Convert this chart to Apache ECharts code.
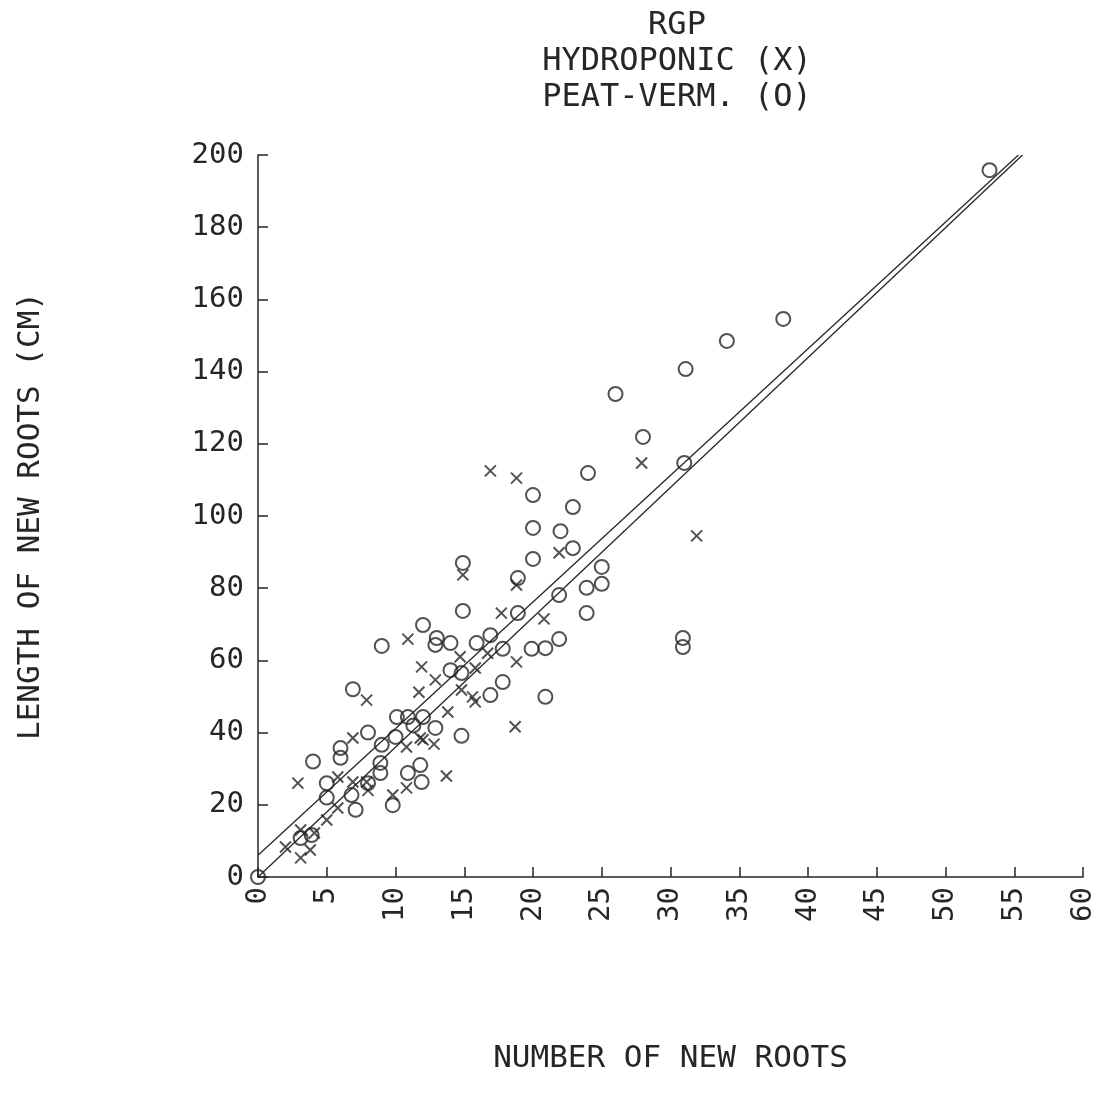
<!DOCTYPE html>
<html>
<head>
<meta charset="utf-8">
<script src="https://cdn.jsdelivr.net/npm/echarts@6/dist/echarts.min.js"></script>
<style>
  html, body { margin: 0; padding: 0; background: #fff; }
  #chart { width: 1099px; height: 1098px; }
</style>
</head>
<body>
<div id="chart"></div>
<script>
// 数据
var xTicks = [0, 60, 5];
var yTicks = [0, 200, 20];

// peat-verm (O)
var peatVerm = [
  [0,0],[3.1,10.8],[3.9,11.6],[4,32],[5,26],[5,22],[6,33],[6,35.7],[6.8,22.7],[7.1,18.6],
  [6.9,52],[8,40],[8,26],[8.9,31.6],[8.9,28.8],[9,36.6],[9,64],[9.8,19.9],[10,38.8],[10.1,44.3],
  [10.9,44.3],[10.9,28.8],[11.3,42],[11.8,31],[11.9,26.3],[12,44.3],[12,69.8],[12.9,41.3],[13,66.2],[12.9,64.3],
  [14,64.8],[14,57.3],[14.8,56.5],[14.8,39.1],[14.9,87],[14.9,73.7],[15.9,64.8],[16.9,67],[16.9,50.4],[17.8,63.2],
  [17.8,54],[18.9,82.8],[18.9,73.1],[19.9,63.2],[20,105.8],[20,96.7],[20,88.1],[20.9,63.4],[20.9,49.9],[21.9,65.9],
  [21.9,78.1],[22,95.8],[22.9,102.5],[22.9,91.1],[23.9,80.1],[23.9,73.1],[24,111.9],[25,85.9],[25,81.2],[26,133.8],
  [28,121.9],[30.9,66.2],[30.9,63.7],[31,114.7],[31.1,140.7],[34.1,148.5],[38.2,154.6],[53.2,195.8]
];

// hydroponic (X)
var hydroponic = [
  [2,8.3],[3.1,5.3],[3.1,13],[3.8,7.5],[4.1,12.2],[2.9,26],[5,15.8],[5.8,19.1],[5.8,27.7],[6.9,26.3],
  [6.9,38.5],[7.9,26.3],[7.9,49],[8,24],[9.8,22.7],[10.8,24.7],[10.8,36],[10.9,65.9],[11.7,51.2],[11.8,38.5],
  [11.9,58.2],[12,38],[12.8,36.8],[12.9,54.6],[13.7,28],[13.8,45.7],[14.7,61],[14.8,51.8],[15.6,49.9],[15.8,57.9],
  [15.8,48.5],[14.9,83.7],[16.7,62],[16.9,112.5],[17.7,73.1],[18.7,41.6],[18.8,59.6],[18.8,80.9],[18.8,110.5],[20.8,71.5],
  [21.9,89.8],[27.9,114.7],[31.9,94.5]
];

// regression lines (end points)
var fitHydro = [[0,6],[55.3,200]];
var fitPeat = [[0,0],[55.6,200]];

var ink = '#262626';
var font = 'DejaVu Sans Mono';

var chart = echarts.init(document.getElementById('chart'));
var option = {
  animation: false,
  backgroundColor: '#fff',
  title: {
    text: 'RGP\nHYDROPONIC (X)\nPEAT-VERM. (O)',
    left: 672,
    top: 3,
    textAlign: 'center',
    textStyle: { fontFamily: font, fontSize: 32, fontWeight: 'normal', color: ink, lineHeight: 36 }
  },
  grid: { left: 258, right: 16, top: 155, bottom: 221 },
  xAxis: {
    type: 'value',
    min: xTicks[0], max: xTicks[1], interval: xTicks[2],
    name: 'NUMBER OF NEW ROOTS',
    nameLocation: 'middle',
    nameGap: 166,
    nameTextStyle: { fontFamily: font, fontSize: 31, color: ink },
    axisLine: { lineStyle: { color: ink, width: 1.5 } },
    axisTick: { inside: true, length: 10, lineStyle: { color: ink, width: 1.5 } },
    axisLabel: { rotate: 90, margin: 10, fontFamily: font, fontSize: 29, color: ink },
    splitLine: { show: false }
  },
  yAxis: {
    type: 'value',
    min: yTicks[0], max: yTicks[1], interval: yTicks[2],
    name: 'LENGTH OF NEW ROOTS (CM)',
    nameLocation: 'middle',
    nameGap: 212,
    nameTextStyle: { fontFamily: font, fontSize: 31, color: ink },
    axisLine: { lineStyle: { color: ink, width: 1.5 } },
    axisTick: { inside: true, length: 10, lineStyle: { color: ink, width: 1.5 } },
    axisLabel: { margin: 14, fontFamily: font, fontSize: 29, color: ink },
    splitLine: { show: false }
  },
  series: [
    {
      name: 'HYDROPONIC',
      type: 'scatter',
      symbol: 'path://M0,0L10,10M10,0L0,10',
      symbolSize: 11,
      itemStyle: { color: 'none', borderColor: ink, borderWidth: 2 },
      data: hydroponic
    },
    {
      name: 'PEAT-VERM.',
      type: 'scatter',
      symbol: 'circle',
      symbolSize: 14,
      itemStyle: { color: 'rgba(0,0,0,0)', borderColor: ink, borderWidth: 2 },
      data: peatVerm
    },
    {
      type: 'line',
      data: fitHydro,
      showSymbol: false,
      lineStyle: { color: ink, width: 1.3 }
    },
    {
      type: 'line',
      data: fitPeat,
      showSymbol: false,
      lineStyle: { color: ink, width: 1.3 }
    }
  ]
};
chart.setOption(option);
</script>
</body>
</html>
